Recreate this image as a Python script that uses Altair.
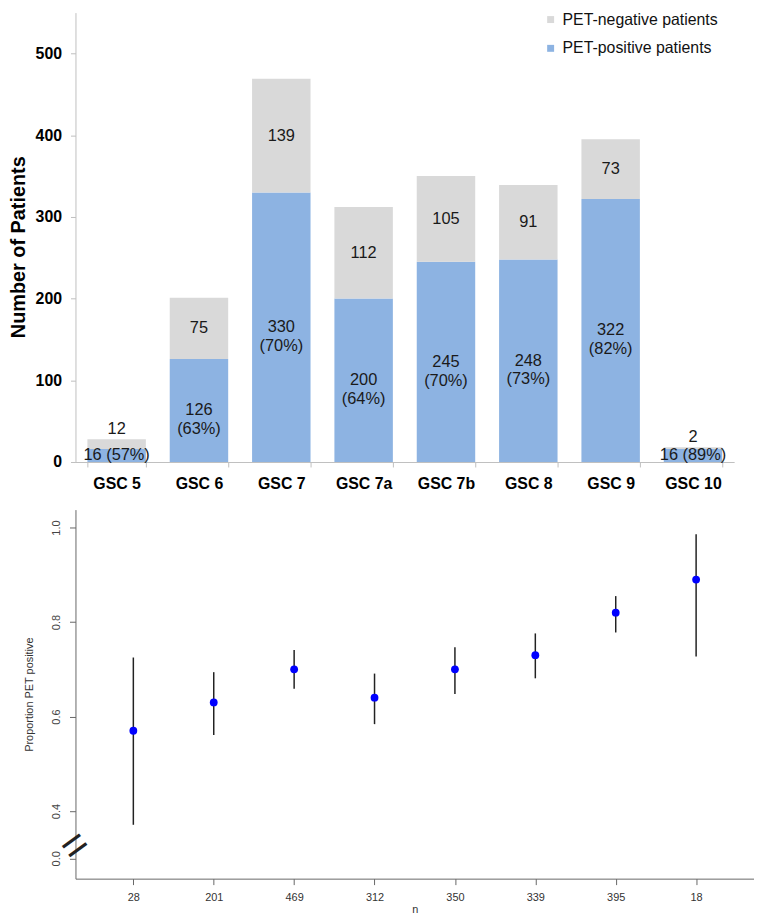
import altair as alt
import pandas as pd

categories = ["GSC 5", "GSC 6", "GSC 7", "GSC 7a", "GSC 7b", "GSC 8", "GSC 9", "GSC 10"]
pet_positive = [16, 126, 330, 200, 245, 248, 322, 16]
pet_negative = [12, 75, 139, 112, 105, 91, 73, 2]
pct_positive = [57, 63, 70, 64, 70, 73, 82, 89]

n_labels = ["28", "201", "469", "312", "350", "339", "395", "18"]
proportion = [0.57, 0.63, 0.70, 0.64, 0.70, 0.73, 0.82, 0.89]
ci_low = [0.371, 0.561, 0.659, 0.584, 0.648, 0.681, 0.778, 0.727]
ci_high = [0.725, 0.694, 0.741, 0.691, 0.747, 0.776, 0.855, 0.986]

NEG = "PET-negative patients"
POS = "PET-positive patients"
FONT = "Liberation Sans"

rows = []
for c, p, n, pc in zip(categories, pet_positive, pet_negative, pct_positive):
    small = (p + n) < 50
    rows.append(dict(cat=c, status=POS, y0=0, y1=p, ly=p / 2,
                     label=(f"{p} ({pc}%)" if small else f"{p}\n({pc}%)"), kind="mid"))
    rows.append(dict(cat=c, status=NEG, y0=p, y1=p + n,
                     ly=(p + n) if small else p + n / 2,
                     label=str(n), kind="above" if small else "mid"))
bars_df = pd.DataFrame(rows)

xenc = alt.X("cat:N", sort=categories,
             scale=alt.Scale(paddingInner=0.29, paddingOuter=0.145),
             axis=alt.Axis(title=None, labelAngle=0, labelFontSize=16, labelFontWeight="bold",
                           labelColor="#000", labelFont=FONT, tickBand="extent", tickSize=5,
                           domainColor="#BFBFBF", tickColor="#BFBFBF", labelPadding=9))

bars = alt.Chart(bars_df).mark_bar().encode(
    x=xenc,
    y=alt.Y("y0:Q", scale=alt.Scale(domain=[0, 550], nice=False),
            axis=alt.Axis(values=[0, 100, 200, 300, 400, 500], grid=False,
                          title="Number of Patients", titleFontSize=20, titleFontWeight="bold",
                          titleColor="#000", titleFont=FONT, titlePadding=7, titleY=236,
                          labelFontSize=16, labelFontWeight="bold", labelColor="#000",
                          labelFont=FONT, tickSize=5, labelPadding=9,
                          domainColor="#BFBFBF", tickColor="#BFBFBF")),
    y2="y1:Q",
    color=alt.Color("status:N",
                    scale=alt.Scale(domain=[NEG, POS], range=["#D9D9D9", "#8DB3E2"]),
                    legend=alt.Legend(title=None, orient="none", legendX=471, legendY=-1,
                                      symbolType="square", symbolSize=49, symbolStrokeWidth=0,
                                      labelFontSize=16, labelFont=FONT, labelColor="#111",
                                      rowPadding=13, padding=0)),
)

txt_mid = alt.Chart(bars_df).transform_filter("datum.kind == 'mid'").mark_text(
    lineBreak="\n", fontSize=16.5, font=FONT, color="#1a1a1a", baseline="middle", lineHeight=19
).encode(x=alt.X("cat:N", sort=categories), y="ly:Q", text="label:N")

txt_above = alt.Chart(bars_df).transform_filter("datum.kind == 'above'").mark_text(
    fontSize=16.5, font=FONT, color="#1a1a1a", baseline="middle", dy=-10
).encode(x=alt.X("cat:N", sort=categories), y="ly:Q", text="label:N")

top = alt.layer(bars, txt_mid, txt_above).properties(width=664, height=453)

pts_df = pd.DataFrame(dict(n=n_labels, prop=proportion, lo=ci_low, hi=ci_high))

bx = alt.X("n:N", sort=n_labels, scale=alt.Scale(type="point", padding=0.72),
           axis=alt.Axis(title="n", titleFontSize=11, titleFontWeight="normal", titleColor="#333",
                         titleFont=FONT, titlePadding=1, labelAngle=0, labelFontSize=11,
                         labelColor="#333", labelFont=FONT, tickSize=6, labelPadding=7,
                         domainColor="#666", tickColor="#666"))
by_scale = alt.Scale(domain=[0.257, 1.038], nice=False, zero=False)
by_axis = alt.Axis(values=[0.3, 0.4, 0.6, 0.8, 1.0], grid=False,
                   labelExpr="datum.value < 0.35 ? '0.0' : format(datum.value, '.1f')",
                   labelAngle=270, labelAlign="center", labelBaseline="bottom",
                   labelFontSize=11, labelColor="#444", labelFont=FONT, labelPadding=8,
                   tickSize=6, domainColor="#666", tickColor="#666",
                   title="Proportion PET positive", titleFontSize=11, titleFontWeight="normal",
                   titleColor="#333", titleFont=FONT, titlePadding=16)

rules = alt.Chart(pts_df).mark_rule(color="#222", strokeWidth=1.5).encode(
    x=bx, y=alt.Y("lo:Q", scale=by_scale, axis=by_axis), y2="hi:Q")
dots = alt.Chart(pts_df).mark_circle(size=62, color="#0000FF", opacity=1).encode(
    x=alt.X("n:N", sort=n_labels), y="prop:Q")
brk = alt.Chart(pd.DataFrame({"a": [1]})).mark_text(
    text="=", angle=324, fontSize=44, font=FONT, color="#222", baseline="middle", align="center"
).encode(x=alt.value(0), y=alt.datum(0.325))

bottom = alt.layer(rules, dots, brk).properties(width=684, height=372)

chart = alt.vconcat(top, bottom, spacing=18).properties(padding=0).configure_view(stroke=None)
chart.save("out.html", embed_options={"renderer": "svg", "actions": False})
